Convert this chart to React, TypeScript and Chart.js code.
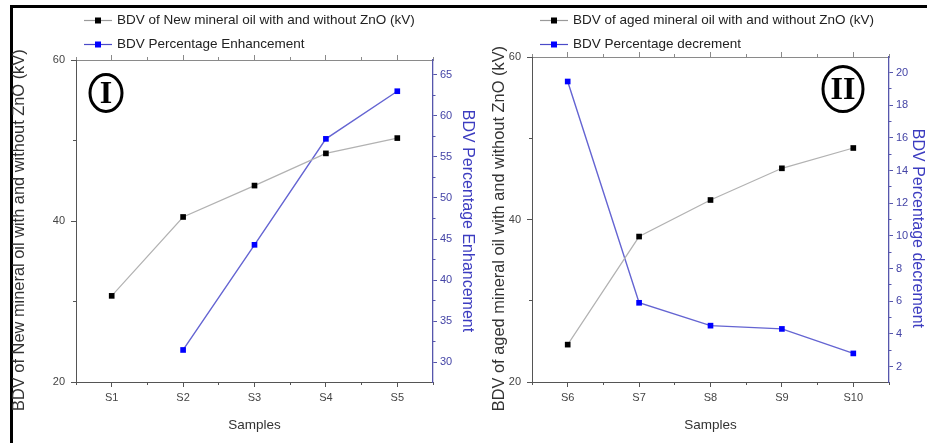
import { useEffect, useRef } from 'react';
import { Chart, registerables } from 'chart.js';

Chart.register(...registerables);

// ---------- data ----------
const samplesNew = ['S1', 'S2', 'S3', 'S4', 'S5'];
const bdvNew = [30.7, 40.5, 44.4, 48.4, 50.3];
const enhancementNew: (number | null)[] = [null, 31.5, 44.3, 57.2, 63.0];

const samplesAged = ['S6', 'S7', 'S8', 'S9', 'S10'];
const bdvAged = [24.6, 37.9, 42.4, 46.3, 48.8];
const decrementAged = [19.45, 5.9, 4.5, 4.3, 2.8];

// tick values
const kvMajorTicks = [20, 40, 60];
const kvMinorTicks = [30, 50];
const enhMajorTicks = [30, 35, 40, 45, 50, 55, 60, 65];
const enhMinorTicks = [32.5, 37.5, 42.5, 47.5, 52.5, 57.5, 62.5];
const decMajorTicks = [2, 4, 6, 8, 10, 12, 14, 16, 18, 20];
const decMinorTicks = [3, 5, 7, 9, 11, 13, 15, 17, 19];

const FONT = "'Liberation Sans', Arial, sans-serif";
const AX = '#555555';
const TOPAX = '#8a8a8a';
const BLUE_AX = '#5656ac';
const BLUE_TXT = '#4444a6';
const BLUE_TITLE = '#3c3cc0';

type Panel = {
  width: number;
  height: number;
  labels: string[];
  bdv: (number | null)[];
  pct: (number | null)[];
  bdvLabel: string;
  pctLabel: string;
  leftTitle: string;
  rightTitle: string;
  kvRange: [number, number];
  pctRange: [number, number];
  pctMajor: number[];
  pctMinor: number[];
  leftWidth: number;
  rightWidth: number;
  top: number;
  bottomHeight: number;
  leftTitlePad: number;
  rightTitlePad: number;
  numeral: string;
  numeralAt: (a: { left: number; right: number; top: number }) => { x: number; y: number; rx: number; ry: number };
};

const fixWidth = (w: number) => (s: any) => {
  s.width = w;
};
const fixHeight = (h: number) => (s: any) => {
  s.height = h;
};
const setTicks = (vals: number[]) => (s: any) => {
  s.ticks = vals.map((v) => ({ value: v }));
};

function legendPlugin() {
  return {
    id: 'seriesLegend',
    afterDraw(chart: any) {
      const { ctx, chartArea } = chart;
      const rows = [20, 44];
      ctx.save();
      chart.data.datasets.forEach((ds: any, i: number) => {
        const y = rows[i];
        const x = chartArea.left + 41;
        ctx.strokeStyle = ds.legendLine;
        ctx.lineWidth = 1.2;
        ctx.beginPath();
        ctx.moveTo(x - 33, y + 0.5);
        ctx.lineTo(x - 5, y + 0.5);
        ctx.stroke();
        ctx.fillStyle = ds.pointBackgroundColor;
        ctx.fillRect(x - 22, y - 2.5, 6, 6);
        ctx.fillStyle = '#222';
        ctx.font = `13.5px ${FONT}`;
        ctx.textBaseline = 'middle';
        ctx.textAlign = 'left';
        ctx.fillText(ds.label, x, y);
      });
      ctx.restore();
    },
  };
}

function numeralPlugin(text: string, at: Panel['numeralAt']) {
  return {
    id: 'numeral',
    afterDraw(chart: any) {
      const { ctx, chartArea } = chart;
      const p = at(chartArea);
      ctx.save();
      ctx.strokeStyle = '#000';
      ctx.lineWidth = 3;
      ctx.beginPath();
      ctx.ellipse(p.x, p.y, p.rx, p.ry, 0, 0, Math.PI * 2);
      ctx.stroke();
      ctx.fillStyle = '#000';
      ctx.font = `bold 32px 'Liberation Serif', 'Times New Roman', serif`;
      ctx.textAlign = 'center';
      ctx.textBaseline = 'middle';
      ctx.fillText(text, p.x, p.y + 1.5);
      ctx.restore();
    },
  };
}

function makeConfig(p: Panel): any {
  const tickFont = { family: FONT, size: 11 };
  return {
    type: 'line',
    data: {
      labels: p.labels,
      datasets: [
        {
          label: p.bdvLabel,
          data: p.bdv,
          yAxisID: 'y',
          xAxisID: 'x',
          borderColor: '#b2b2b2',
          legendLine: '#9a9a9a',
          borderWidth: 1.2,
          pointStyle: 'rect',
          pointRadius: 4,
          pointBackgroundColor: '#000000',
          pointBorderColor: '#000000',
          pointBorderWidth: 0,
          tension: 0,
        },
        {
          label: p.pctLabel,
          data: p.pct,
          yAxisID: 'y1',
          xAxisID: 'x',
          borderColor: '#6464d2',
          legendLine: '#4a4ac8',
          borderWidth: 1.4,
          pointStyle: 'rect',
          pointRadius: 4,
          pointBackgroundColor: '#0000ff',
          pointBorderColor: '#0000ff',
          pointBorderWidth: 0,
          tension: 0,
        },
      ],
    },
    options: {
      animation: false,
      responsive: false,
      maintainAspectRatio: false,
      layout: { padding: { top: p.top, left: 0, right: 0, bottom: 0 } },
      plugins: { legend: { display: false }, tooltip: { enabled: false } },
      scales: {
        x: {
          type: 'category',
          position: 'bottom',
          offset: true,
          grid: { display: true, drawOnChartArea: false, drawTicks: true, tickLength: 5, color: AX, tickColor: AX },
          border: { display: true, color: AX, width: 1 },
          ticks: { color: '#444', font: tickFont, padding: 4, maxRotation: 0, autoSkip: false },
          title: { display: true, text: 'Samples', color: '#333', font: { family: FONT, size: 13.5 }, padding: { top: 0, bottom: 10 } },
          afterFit: fixHeight(p.bottomHeight),
        },
        xm: {
          type: 'category',
          position: 'bottom',
          offset: true,
          weight: -1,
          grid: { display: true, offset: true, drawOnChartArea: false, drawTicks: true, tickLength: 3, color: AX, tickColor: AX },
          border: { display: false },
          ticks: { display: false },
          afterFit: fixHeight(0),
        },
        xt: {
          type: 'category',
          position: 'top',
          offset: true,
          grid: { display: true, drawOnChartArea: false, drawTicks: true, tickLength: 5, color: TOPAX, tickColor: TOPAX },
          border: { display: true, color: TOPAX, width: 1 },
          ticks: { display: false },
          afterFit: fixHeight(0),
        },
        xtm: {
          type: 'category',
          position: 'top',
          offset: true,
          weight: -1,
          grid: { display: true, offset: true, drawOnChartArea: false, drawTicks: true, tickLength: 3, color: TOPAX, tickColor: TOPAX },
          border: { display: false },
          ticks: { display: false },
          afterFit: fixHeight(0),
        },
        y: {
          type: 'linear',
          position: 'left',
          min: p.kvRange[0],
          max: p.kvRange[1],
          afterBuildTicks: setTicks(kvMajorTicks),
          grid: { display: true, drawOnChartArea: false, drawTicks: true, tickLength: 5, color: AX, tickColor: AX },
          border: { display: true, color: AX, width: 1 },
          ticks: { color: '#444', font: tickFont, padding: 6 },
          title: { display: true, text: p.leftTitle + '    ', color: '#333', font: { family: FONT, size: 16.4 }, padding: { top: p.leftTitlePad, bottom: 0 } },
          afterFit: fixWidth(p.leftWidth),
        },
        ym: {
          type: 'linear',
          position: 'left',
          weight: -1,
          min: p.kvRange[0],
          max: p.kvRange[1],
          afterBuildTicks: setTicks(kvMinorTicks),
          grid: { display: true, drawOnChartArea: false, drawTicks: true, tickLength: 3, color: AX, tickColor: AX },
          border: { display: false },
          ticks: { display: false },
          afterFit: fixWidth(0),
        },
        y1: {
          type: 'linear',
          position: 'right',
          min: p.pctRange[0],
          max: p.pctRange[1],
          afterBuildTicks: setTicks(p.pctMajor),
          grid: { display: true, drawOnChartArea: false, drawTicks: true, tickLength: 4, color: BLUE_AX, tickColor: BLUE_AX },
          border: { display: true, color: BLUE_AX, width: 1.3 },
          ticks: { color: BLUE_TXT, font: tickFont, padding: 3 },
          title: { display: true, text: p.rightTitle, color: BLUE_TITLE, font: { family: FONT, size: 16 }, padding: { top: p.rightTitlePad, bottom: 0 } },
          afterFit: fixWidth(p.rightWidth),
        },
        y1m: {
          type: 'linear',
          position: 'right',
          weight: -1,
          min: p.pctRange[0],
          max: p.pctRange[1],
          afterBuildTicks: setTicks(p.pctMinor),
          grid: { display: true, drawOnChartArea: false, drawTicks: true, tickLength: 2.5, color: BLUE_AX, tickColor: BLUE_AX },
          border: { display: false },
          ticks: { display: false },
          afterFit: fixWidth(0),
        },
      },
    },
    plugins: [legendPlugin(), numeralPlugin(p.numeral, p.numeralAt)],
  };
}

const panelNew: Panel = {
  width: 480,
  height: 443,
  labels: samplesNew,
  bdv: bdvNew,
  pct: enhancementNew,
  bdvLabel: 'BDV of New mineral oil with and without ZnO (kV)',
  pctLabel: 'BDV Percentage Enhancement',
  leftTitle: 'BDV of New mineral oil with and without ZnO (kV)',
  rightTitle: 'BDV Percentage Enhancement',
  kvRange: [20, 60],
  pctRange: [27.6, 66.8],
  pctMajor: enhMajorTicks,
  pctMinor: enhMinorTicks,
  leftWidth: 76,
  rightWidth: 47,
  top: 60,
  bottomHeight: 61,
  leftTitlePad: 9.4,
  rightTitlePad: 3.4,
  numeral: 'I',
  numeralAt: (a) => ({ x: a.left + 30, y: a.top + 33, rx: 16, ry: 18.5 }),
};

const panelAged: Panel = {
  width: 447,
  height: 443,
  labels: samplesAged,
  bdv: bdvAged,
  pct: decrementAged,
  bdvLabel: 'BDV of aged mineral oil with and without ZnO (kV)',
  pctLabel: 'BDV Percentage decrement',
  leftTitle: 'BDV of aged mineral oil with and without ZnO (kV)',
  rightTitle: '    BDV Percentage decrement',
  kvRange: [20, 60],
  pctRange: [1.05, 20.95],
  pctMajor: decMajorTicks,
  pctMinor: decMinorTicks,
  leftWidth: 52,
  rightWidth: 38,
  top: 57,
  bottomHeight: 61,
  leftTitlePad: 10,
  rightTitlePad: 0,
  numeral: 'II',
  numeralAt: (a) => ({ x: a.right - 46, y: a.top + 32, rx: 20, ry: 22.5 }),
};

function ChartPanel({ panel, left }: { panel: Panel; left: number }) {
  const ref = useRef<HTMLCanvasElement | null>(null);
  useEffect(() => {
    if (!ref.current) return;
    const chart = new Chart(ref.current, makeConfig(panel));
    return () => chart.destroy();
  }, [panel]);
  return (
    <canvas
      ref={ref}
      width={panel.width}
      height={panel.height}
      style={{ position: 'absolute', left, top: 0, width: panel.width, height: panel.height }}
    />
  );
}

export default function App() {
  return (
    <div
      style={{
        position: 'fixed',
        left: 0,
        top: 0,
        width: 927,
        height: 443,
        overflow: 'hidden',
        background: '#ffffff',
      }}
    >
      <div
        style={{
          position: 'absolute',
          left: 10,
          top: 5,
          width: 1000,
          height: 500,
          borderTop: '3px solid #000',
          borderLeft: '3px solid #000',
        }}
      />
      <ChartPanel panel={panelNew} left={0} />
      <ChartPanel panel={panelAged} left={480} />
    </div>
  );
}
